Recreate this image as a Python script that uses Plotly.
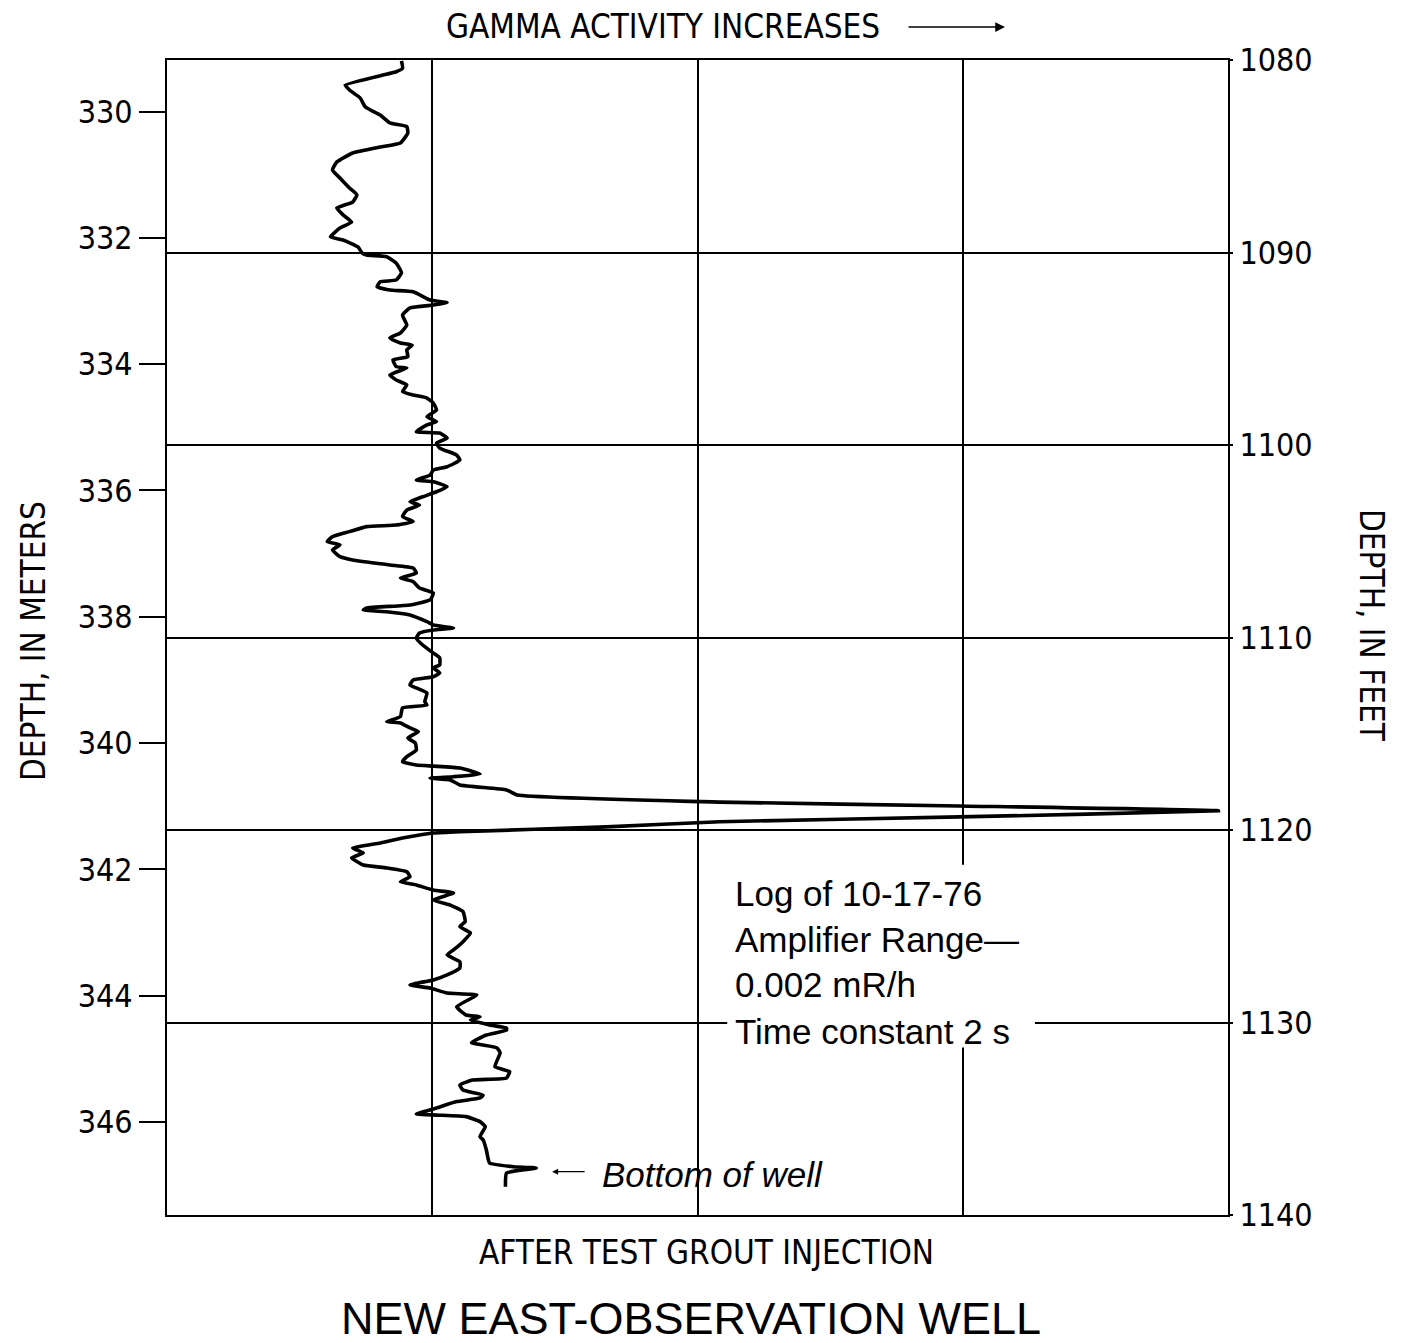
import plotly.graph_objects as go

# Gamma log, new east-observation well, after test grout injection.
# Depth in feet below land surface; gamma activity in relative chart units (0-100).
depth_ft = [
    1080.05, 1080.43, 1080.61, 1081.30, 1081.56, 1081.97, 1082.44, 1082.86, 1083.27, 1083.46,
    1083.79, 1084.31, 1084.52, 1084.83, 1085.30, 1085.71, 1086.13, 1086.65, 1087.01, 1087.38,
    1087.69, 1088.05, 1088.42, 1088.73, 1089.19, 1089.35, 1089.71, 1090.03, 1090.13, 1090.22,
    1090.55, 1091.06, 1091.43, 1091.52, 1091.78, 1091.95, 1092.04, 1092.47, 1092.61, 1092.73,
    1092.88, 1093.25, 1093.77, 1094.18, 1094.44, 1094.70, 1094.81, 1095.06, 1095.41, 1095.58,
    1095.93, 1096.00, 1096.36, 1096.62, 1096.88, 1097.23, 1097.40, 1097.56, 1097.82, 1098.18,
    1098.53, 1098.79, 1098.96, 1099.31, 1099.38, 1099.64, 1099.90, 1100.16, 1100.52, 1100.78,
    1101.13, 1101.30, 1101.56, 1101.82, 1101.91, 1102.17, 1102.43, 1102.69, 1102.95, 1103.12,
    1103.38, 1103.72, 1103.98, 1104.16, 1104.24, 1104.50, 1104.76, 1105.02, 1105.19, 1105.45,
    1105.80, 1105.97, 1106.23, 1106.39, 1106.65, 1106.91, 1107.10, 1107.43, 1107.69, 1108.05,
    1108.31, 1108.47, 1108.57, 1108.66, 1108.83, 1109.18, 1109.35, 1109.51, 1109.61, 1109.77,
    1110.03, 1110.39, 1110.81, 1111.06, 1111.43, 1111.58, 1111.84, 1112.04, 1112.21, 1112.47,
    1112.62, 1112.88, 1113.33, 1113.51, 1113.66, 1114.11, 1114.37, 1114.44, 1114.70, 1114.89,
    1115.22, 1115.48, 1115.84, 1116.19, 1116.45, 1116.62, 1116.68, 1116.78, 1117.09, 1117.23,
    1117.30, 1117.40, 1117.66, 1117.92, 1118.18, 1118.55, 1118.75, 1119.00, 1119.32, 1119.57,
    1119.84, 1120.09, 1120.16, 1120.26, 1120.42, 1120.68, 1120.94, 1121.19, 1121.45, 1121.82,
    1121.97, 1122.17, 1122.43, 1122.69, 1122.86, 1123.12, 1123.27, 1123.64, 1123.90, 1124.24,
    1124.76, 1125.02, 1125.35, 1125.80, 1126.23, 1126.49, 1126.84, 1127.17, 1127.53, 1127.79,
    1128.05, 1128.21, 1128.47, 1128.57, 1129.18, 1129.61, 1129.70, 1129.87, 1130.13, 1130.29,
    1130.39, 1130.65, 1131.05, 1131.32, 1131.58, 1132.30, 1132.55, 1132.88, 1132.99, 1133.25,
    1133.51, 1133.77, 1133.92, 1134.11, 1134.44, 1134.75, 1134.81, 1134.89, 1135.15, 1135.41,
    1135.93, 1136.10, 1136.62, 1137.30, 1137.49, 1137.56, 1137.82, 1138.53,
]
gamma = [
    22.1, 22.2, 21.6, 16.8, 17.2, 18.2, 18.7, 20.1, 21.0, 22.6,
    22.7, 22.0, 20.1, 17.5, 16.0, 15.6, 16.3, 17.2, 17.9, 17.5,
    16.0, 16.6, 17.4, 16.3, 15.4, 16.6, 18.0, 18.4, 18.8, 20.7,
    21.6, 22.1, 21.6, 20.1, 19.8, 21.0, 23.2, 24.8, 26.4, 25.1,
    22.9, 22.2, 22.6, 22.0, 21.0, 22.0, 23.1, 22.6, 22.7, 21.3,
    21.6, 22.6, 21.0, 21.6, 22.6, 22.2, 23.2, 24.5, 25.1, 25.4,
    24.5, 25.4, 24.5, 23.5, 25.7, 26.4, 25.4, 25.7, 27.3, 27.6,
    26.4, 25.1, 24.8, 23.5, 25.1, 26.4, 25.4, 24.1, 22.9, 23.8,
    22.6, 22.2, 23.2, 21.6, 18.8, 17.2, 15.6, 15.1, 16.3, 15.6,
    16.3, 17.5, 21.0, 23.2, 23.5, 22.0, 23.2, 23.8, 25.1, 24.8,
    22.9, 18.8, 18.5, 20.7, 22.9, 24.5, 25.1, 27.0, 25.1, 23.8,
    23.5, 24.1, 25.1, 25.7, 25.7, 25.1, 25.7, 25.1, 23.2, 22.9,
    23.5, 24.5, 24.3, 24.5, 22.2, 22.0, 20.7, 22.0, 22.9, 23.7,
    22.7, 23.4, 23.5, 22.6, 22.2, 23.5, 25.1, 27.6, 29.5, 27.0,
    24.8, 26.7, 27.6, 32.0, 33.0, 52.1, 74.7, 99.1, 74.7, 52.1,
    41.4, 27.6, 25.1, 23.8, 22.2, 20.1, 17.5, 18.5, 17.4, 18.5,
    20.7, 22.6, 22.9, 22.0, 23.5, 25.1, 27.0, 25.1, 26.7, 27.9,
    28.1, 27.6, 28.6, 27.9, 27.0, 26.4, 27.6, 27.6, 26.4, 25.1,
    22.9, 24.8, 26.4, 29.2, 27.3, 28.2, 29.5, 28.6, 30.4, 32.0,
    32.0, 30.1, 28.7, 31.1, 31.4, 30.9, 32.3, 32.0, 28.8, 27.6,
    27.9, 29.8, 29.5, 27.3, 25.4, 23.5, 25.4, 28.2, 29.5, 30.0,
    29.5, 29.8, 30.1, 30.4, 32.6, 34.8, 32.0, 31.9,
]

feet_ticks = [1080, 1090, 1100, 1110, 1120, 1130, 1140]
meter_ticks = [330, 332, 334, 336, 338, 340, 342, 344, 346]
gamma_divisions = [25, 50, 75]
FT_TO_M = 0.3048
depth_top_ft, depth_bottom_ft = 1080, 1140

note_lines = ["Log of 10-17-76", "Amplifier Range\u2014", "0.002 mR/h", "Time constant 2 s"]
note_depths = [1123.3, 1125.7, 1128.05, 1130.45]

NARROW = "Liberation Sans Narrow, DejaVu Sans Condensed, Arial Narrow, sans-serif"
REGULAR = "Liberation Sans, Arial, Helvetica, sans-serif"

fig = go.Figure()
fig.add_trace(go.Scatter(
    x=gamma, y=depth_ft, mode="lines",
    line=dict(color="black", width=3.6, shape="spline", smoothing=0.4),
    showlegend=False, hoverinfo="skip",
))
# carrier trace so the metric depth axis is drawn on the left
fig.add_trace(go.Scatter(
    x=[0, 0], y=[depth_top_ft * FT_TO_M, depth_bottom_ft * FT_TO_M], yaxis="y2",
    mode="lines", line=dict(color="rgba(0,0,0,0)", width=0),
    showlegend=False, hoverinfo="skip",
))

fig.update_layout(
    width=1403, height=1343,
    margin=dict(l=167, r=175, t=60, b=128),
    paper_bgcolor="white", plot_bgcolor="white",
    font=dict(family=NARROW, size=33, color="black"),
    xaxis=dict(
        range=[0, 100], tickvals=gamma_divisions, showticklabels=False, ticks="",
        showgrid=True, gridcolor="black", gridwidth=2, zeroline=False,
        showline=True, linecolor="black", linewidth=2, mirror=True,
    ),
    yaxis=dict(
        range=[depth_bottom_ft, depth_top_ft], tickvals=feet_ticks, side="right",
        ticks="outside", ticklen=3, tickwidth=2, tickcolor="black",
        tickfont=dict(family=NARROW, size=32),
        showgrid=True, gridcolor="black", gridwidth=2, zeroline=False,
        showline=True, linecolor="black", linewidth=2, mirror=True,
    ),
    yaxis2=dict(
        range=[depth_bottom_ft * FT_TO_M, depth_top_ft * FT_TO_M], tickvals=meter_ticks,
        overlaying="y", side="left", ticks="outside", ticklen=27, tickwidth=2,
        tickcolor="black", tickfont=dict(family=NARROW, size=32),
        showgrid=False, zeroline=False, showline=False,
    ),
    shapes=[dict(
        type="rect", xref="x", yref="y", x0=52.8, x1=81.8, y0=1121.8, y1=1131.3,
        fillcolor="white", line=dict(width=0), layer="above",
    )],
)

def px_x(px):
    return (px - 167) / 1061

def px_y(py):
    return (1215 - py) / 1155

def label(text, px, py, size=33, family=NARROW, angle=0):
    return dict(text=text, x=px_x(px), y=px_y(py), xref="paper", yref="paper",
                xanchor="center", yanchor="middle", textangle=angle,
                showarrow=False, font=dict(family=family, size=size))

annotations = [
    label("GAMMA ACTIVITY INCREASES", 663, 26),
    dict(text="", x=px_x(1005), y=px_y(27), xref="paper", yref="paper", showarrow=True,
         ax=-98, ay=0, arrowhead=2, arrowsize=1.3, arrowwidth=1.5, arrowcolor="black"),
    label("DEPTH, IN METERS", 33, 641, angle=-90),
    label("DEPTH, IN FEET", 1372, 625, angle=90),
    label("AFTER TEST GROUT INJECTION", 706, 1252),
    label("NEW EAST-OBSERVATION WELL", 691, 1318, size=45, family=REGULAR),
    dict(text="<i>Bottom of well</i>", x=40.8, y=1137.9, xref="x", yref="y",
         xanchor="left", yanchor="middle", showarrow=False,
         font=dict(family=REGULAR, size=35)),
    dict(text="", x=36.3, y=1137.75, xref="x", yref="y", showarrow=True,
         ax=34, ay=0, arrowhead=2, arrowsize=1.0, arrowwidth=1.2, arrowcolor="black"),
]
for line, d in zip(note_lines, note_depths):
    annotations.append(dict(text=line, x=53.3, y=d, xref="x", yref="y",
                            xanchor="left", yanchor="middle", showarrow=False,
                            font=dict(family=REGULAR, size=35)))
fig.update_layout(annotations=annotations)

fig.write_html("out.html")
